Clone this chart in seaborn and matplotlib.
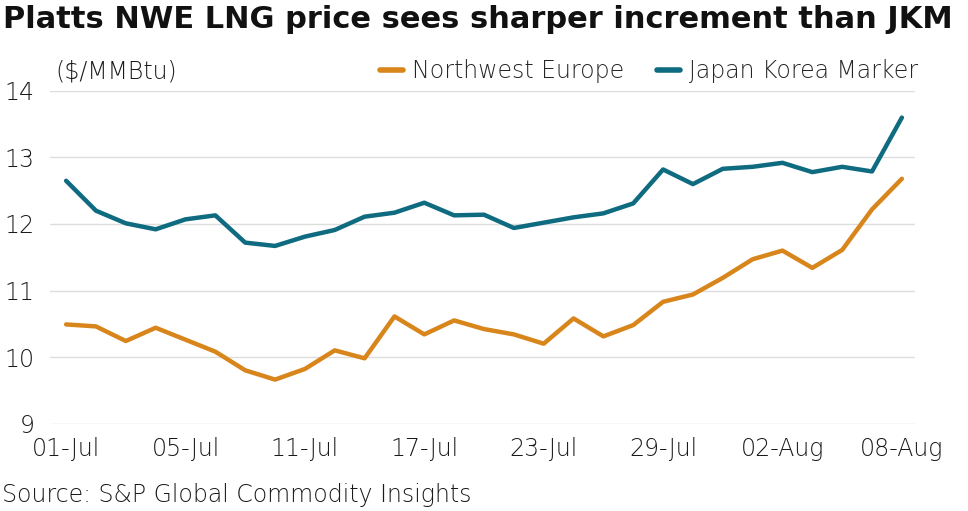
import pandas as pd
import matplotlib.pyplot as plt
import seaborn as sns

# ----------------------------------------------
# Data ($/MMBtu)
# ----------------------------------------------
dates = ["01-Jul", "02-Jul", "03-Jul", "04-Jul", "05-Jul", "08-Jul", "09-Jul", "10-Jul",
         "11-Jul", "12-Jul", "15-Jul", "16-Jul", "17-Jul", "18-Jul", "19-Jul", "22-Jul",
         "23-Jul", "24-Jul", "25-Jul", "26-Jul", "29-Jul", "30-Jul", "31-Jul", "01-Aug",
         "02-Aug", "05-Aug", "06-Aug", "07-Aug", "08-Aug"]
nwe = [10.49, 10.46, 10.24, 10.44, 10.26, 10.08, 9.80, 9.66, 9.82, 10.10,
       9.98, 10.61, 10.34, 10.55, 10.42, 10.34, 10.20, 10.58, 10.31, 10.48,
       10.83, 10.94, 11.19, 11.47, 11.60, 11.34, 11.61, 12.22, 12.68]
jkm = [12.65, 12.20, 12.01, 11.92, 12.07, 12.13, 11.72, 11.67, 11.81, 11.91,
       12.11, 12.17, 12.32, 12.13, 12.14, 11.94, 12.02, 12.10, 12.16, 12.31,
       12.82, 12.60, 12.83, 12.86, 12.92, 12.78, 12.86, 12.79, 13.60]
series_names = ["Northwest Europe", "Japan Korea Marker"]
colors = ["#D8861C", "#0F6B80"]
tick_labels = ["01-Jul", "05-Jul", "11-Jul", "17-Jul", "23-Jul", "29-Jul", "02-Aug", "08-Aug"]

df = pd.DataFrame({
    "pos": list(range(len(dates))) * 2,
    "date": dates * 2,
    "price": nwe + jkm,
    "series": [series_names[0]] * len(nwe) + [series_names[1]] * len(jkm),
})

# ----------------------------------------------
# Plot
# ----------------------------------------------
sns.set_theme(style="white")
plt.rcParams["font.family"] = ["DejaVu Sans"]
txt = "#1a1a1a"
fs = 17

fig = plt.figure(figsize=(9.68, 5.11), dpi=100)
ax = fig.add_axes([50 / 968, 1 - 423.5 / 511, 865 / 968, 332.5 / 511])

sns.lineplot(data=df, x="pos", y="price", hue="series", palette=colors,
             linewidth=3.2, ax=ax, legend=False)

ax.set_xlim(-0.54, 28.44)
ax.set_ylim(9, 14)
ax.set_yticks(range(9, 15))
ax.yaxis.grid(True, color="#dddddd", linewidth=1)
ax.xaxis.grid(False)
for s in ax.spines.values():
    s.set_visible(False)

tick_pos = [dates.index(t) for t in tick_labels]
ax.set_xticks(tick_pos)
ax.set_xticklabels(tick_labels)
ax.tick_params(axis="both", length=0, labelsize=fs, colors=txt)
ax.tick_params(axis="x", pad=10)
ax.tick_params(axis="y", pad=11)
for lab in ax.get_xticklabels() + ax.get_yticklabels():
    lab.set_fontweight("light")
ax.set_xlabel("")
ax.set_ylabel("")

fig.text(3 / 968, 1 - 20 / 511, "Platts NWE LNG price sees sharper increment than JKM",
         fontsize=22, fontweight="bold", color="#111111", va="center", ha="left")
fig.text(55 / 968, 1 - 72 / 511, "($/MMBtu)", fontsize=fs, fontweight="light",
         color=txt, va="center", ha="left")
fig.text(2 / 968, 1 - 495 / 511, "Source: S&P Global Commodity Insights", fontsize=fs,
         fontweight="light", color=txt, va="center", ha="left")

# legend, laid out as in the reference (handle + label side by side)
handles = [plt.Line2D([], [], color=c, linewidth=4) for c in colors]
fig.legend(handles, series_names, loc="center right", bbox_to_anchor=(939 / 968, 1 - 71 / 511),
           ncol=2, frameon=False, handlelength=1.0, handletextpad=0.35,
           columnspacing=1.4, prop={"weight": "light", "size": fs})

fig.savefig("out.png", dpi=100)
